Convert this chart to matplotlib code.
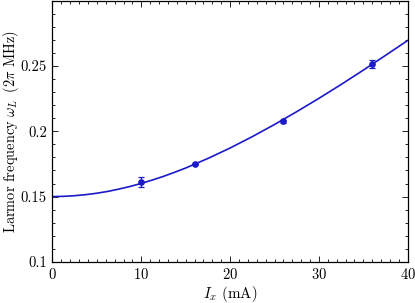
import numpy as np
import matplotlib
matplotlib.use("Agg")
import matplotlib.pyplot as plt
from matplotlib.ticker import MultipleLocator, FixedLocator, FuncFormatter

plt.rcParams['font.family'] = 'serif'
plt.rcParams['font.serif'] = ['cmr10']
plt.rcParams['mathtext.fontset'] = 'cm'
plt.rcParams['axes.formatter.use_mathtext'] = True

# measured points
current = [10, 16, 26, 36]
freq = [0.1610, 0.1751, 0.2077, 0.2515]
freq_err = [0.0037, 0.0010, 0.0010, 0.0027]

# fit curve
fit_x = [0, 1.25, 2.5, 3.75, 5, 6.25, 7.5, 8.75, 10, 11.25, 12.5, 13.75, 15,
         17.5, 20, 22.5, 25, 27.5, 30, 32.5, 35, 37.5, 40]
fit_y = [0.1500, 0.1502, 0.1507, 0.1515, 0.1526, 0.1540, 0.1558, 0.1578, 0.1601,
         0.1627, 0.1655, 0.1686, 0.1719, 0.1792, 0.1872,
         0.1959, 0.2052, 0.2150, 0.2252, 0.2358, 0.2468, 0.2581, 0.2695]

blue = '#1a1ac8'

fig = plt.figure(figsize=(4.15, 3.03), dpi=100)
ax = fig.add_axes([0.1265, 0.1355, 0.856, 0.8625])

ax.plot(fit_x, fit_y, color=blue, lw=1.2)
ax.errorbar(current, freq, yerr=freq_err, fmt='o', color=blue, ms=3.8,
            elinewidth=0.9, capsize=2.5, capthick=0.9)

ax.set_xlim(0, 40)
ax.set_ylim(0.1, 0.3)
ax.xaxis.set_major_locator(MultipleLocator(10))
ax.xaxis.set_minor_locator(MultipleLocator(1))
ax.yaxis.set_major_locator(FixedLocator([0.1, 0.15, 0.2, 0.25]))
ax.yaxis.set_minor_locator(MultipleLocator(0.01))
ax.yaxis.set_major_formatter(FuncFormatter(lambda v, p: '%g' % round(v, 3)))
ax.tick_params(which='both', direction='in', top=True, right=True, labelsize=10.5,
               width=0.6)
ax.tick_params(which='major', length=4, pad=4)
ax.tick_params(which='minor', length=2)
for s in ax.spines.values():
    s.set_linewidth(0.9)

ax.set_xlabel(r'$I_x$ (mA)', fontsize=10.8, labelpad=1)
ax.set_ylabel(r'Larmor frequency $\omega_L$ $\,(2\pi$ MHz$)$', fontsize=10.4)
ax.yaxis.set_label_coords(-0.09, 0.5)

fig.savefig('out.png', dpi=100)
